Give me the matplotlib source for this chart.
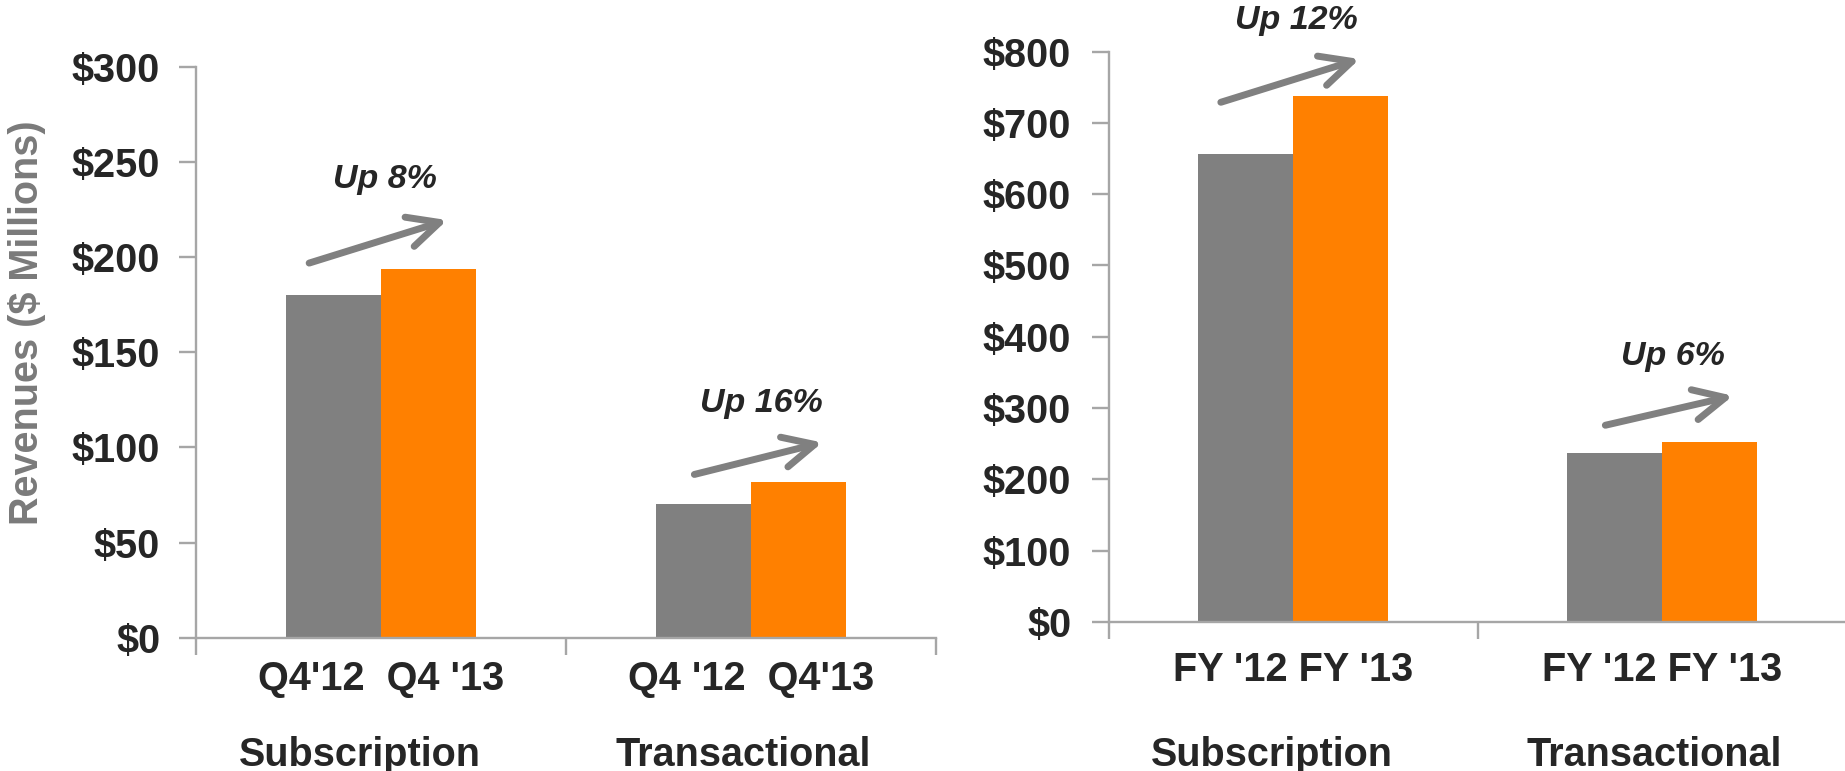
import numpy as np
import matplotlib.pyplot as plt
from matplotlib.transforms import blended_transform_factory

plt.rcParams['font.family'] = ['Liberation Sans', 'DejaVu Sans']
plt.rcParams['font.weight'] = 'bold'

# data
segments = ["Subscription", "Transactional"]
q_labels = ["Q4'12  Q4 '13", "Q4 '12  Q4'13"]
q_prev = [180, 70.5]        # Q4'12
q_curr = [194, 82]          # Q4'13
fy_labels = ["FY '12 FY '13", "FY '12 FY '13"]
fy_prev = [657, 237]        # FY'12
fy_curr = [738, 252]        # FY'13
q_growth = ["Up 8%", "Up 16%"]
fy_growth = ["Up 12%", "Up 6%"]

GREY = '#808080'
ORANGE = '#FF8000'
TXT = '#262626'
AX = '#A6A6A6'
FS = 28.5

fig = plt.figure(figsize=(18.45, 7.71), dpi=100)
ax1 = fig.add_axes([0.1064, 0.1729, 0.4011, 0.7403])
ax2 = fig.add_axes([0.6009, 0.1933, 0.4000, 0.7398])


def draw(ax, prev, curr, ticklabels, ymax, ystep, xpad, ypad):
    x = np.arange(len(prev))
    w = 0.257
    ax.bar(x - w / 2, prev, w, color=GREY, zorder=2)
    ax.bar(x + w / 2, curr, w, color=ORANGE, zorder=2)
    ax.set_xlim(-0.5, len(prev) - 0.5)
    ax.set_ylim(0, ymax)
    ax.set_yticks(np.arange(0, ymax + 1, ystep))
    ax.set_yticklabels([f"${v}" for v in range(0, ymax + 1, ystep)])
    ax.set_xticks(np.arange(-0.5, len(prev)))
    ax.set_xticklabels([])
    ax.set_xticks(x, minor=True)
    ax.set_xticklabels(ticklabels, minor=True)
    ax.tick_params(axis='x', which='minor', length=0, pad=xpad,
                   labelsize=FS, labelcolor=TXT)
    ax.tick_params(axis='x', which='major', length=12, width=1.7,
                   color=AX, direction='out')
    ax.tick_params(axis='y', length=12, width=1.7, color=AX,
                   pad=ypad, labelsize=FS, labelcolor=TXT)
    for s in ['top', 'right']:
        ax.spines[s].set_visible(False)
    for s in ['left', 'bottom']:
        ax.spines[s].set_color(AX)
        ax.spines[s].set_linewidth(1.7)
    tr = blended_transform_factory(ax.transData, fig.transFigure)
    for i, name in enumerate(segments):
        ax.text(i - 0.057 + 0.035 * i, 0.006, name, transform=tr,
                ha='center', va='baseline', fontsize=FS, color=TXT)


def arrow(ax, start, end, label, txy):
    ax.annotate('', xy=end, xytext=start, annotation_clip=False,
                arrowprops=dict(arrowstyle='->,head_length=1.13,head_width=0.55',
                                lw=5, color=GREY, shrinkA=0, shrinkB=0,
                                mutation_scale=20, capstyle='round',
                                joinstyle='round'))
    ax.text(txy[0], txy[1], label, ha='center', va='center', fontsize=24.5,
            style='italic', color=TXT, clip_on=False)


draw(ax1, q_prev, q_curr, q_labels, 300, 50, 16, 14)
draw(ax2, fy_prev, fy_curr, fy_labels, 800, 100, 21, 15)

arrow(ax1, (-0.195, 196.9), (0.178, 219.5), q_growth[0], (0.01, 240.6))
arrow(ax1, (0.846, 85.8), (1.192, 102.6), q_growth[1], (1.027, 123.3))
arrow(ax2, (-0.196, 728.9), (0.18, 789.6), fy_growth[0], (0.008, 843.5))
arrow(ax2, (0.846, 275.9), (1.192, 317.2), fy_growth[1], (1.03, 372.5))

fig.text(27 / 1845, 1 - 323 / 771, "Revenues ($ Millions)", rotation=90,
         ha='center', va='center', fontsize=FS, color='#7a7a7a')

fig.savefig("out.png", dpi=100)
